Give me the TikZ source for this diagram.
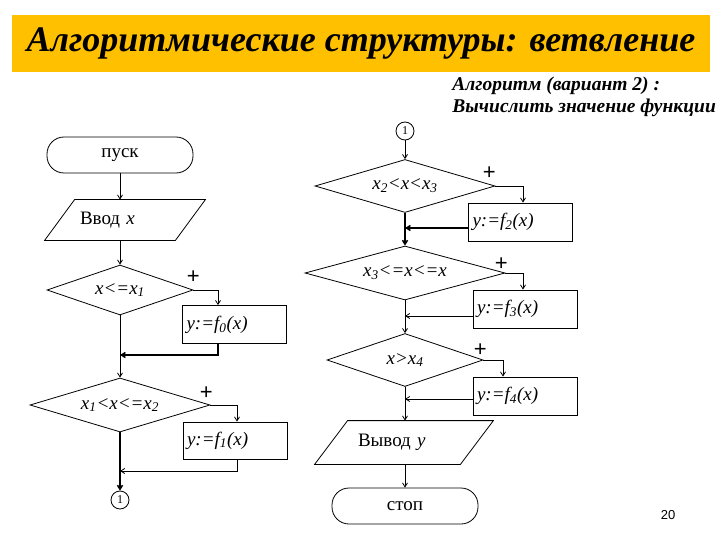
\documentclass[tikz,border=0pt]{standalone}
\usepackage{fontspec}
\setmainfont{Liberation Serif}
\newfontfamily\sansfont{Liberation Sans}
\usetikzlibrary{shapes.geometric,arrows.meta}
\definecolor{titlebg}{RGB}{255,192,0}
\begin{document}
\begin{tikzpicture}[x=1pt,y=-1pt,line width=0.8pt,
    every node/.style={inner sep=0pt},
    >={Straight Barb[length=4pt,width=5pt]},
    term/.style={draw,rounded corners=17pt,minimum width=146pt,minimum height=36pt,font=\fontsize{19}{19}\selectfont},
    io/.style={align=left,font=\fontsize{19}{19}\selectfont},
    cond/.style={draw,diamond,aspect=3,minimum height=53pt,font=\fontsize{19}{19}\selectfont\itshape},
    act/.style={draw,text width=96pt,inner xsep=4pt,align=left,minimum height=38pt,font=\fontsize{19}{19}\selectfont\itshape},
    link/.style={draw,circle,minimum size=18pt,font=\fontsize{12}{12}\selectfont},
    yes/.style={font=\sansfont\fontsize{22}{22}\selectfont},
    heavy/.style={line width=1.5pt}]
      \useasboundingbox (0,0) rectangle (720,540);
      \node[fill=titlebg,minimum width=698pt,minimum height=57pt,font=\fontsize{36}{36}\selectfont\bfseries\itshape] (title) at (361,43.5) {Алгоритмические структуры: ветвление};
      \node[anchor=north west,align=left,font=\fontsize{19.5}{22}\selectfont\bfseries\itshape] (task) at (452,77) {Алгоритм (вариант 2) :\\Вычислить значение функции};
      \node[term] (start) at (120,155) {пуск};
      \node[io,inner xsep=35pt,text width=90pt,minimum height=40pt] (in) at (125,220) {Ввод \textit{x}};
      \draw ([xshift=30pt]in.north west) -- (in.north east) -- ([xshift=-30pt]in.south east) -- (in.south west) -- cycle;
      \node[cond,minimum width=146pt,minimum height=50pt] (d1) at (120,290) {x<=x\textsubscript{1}};
      \node[act] (f0) at (234.5,324.5) {y:=f\textsubscript{0}(x)};
      \node[cond,minimum width=180pt,minimum height=54pt] (d2) at (120,405) {x\textsubscript{1}<x<=x\textsubscript{2}};
      \node[act,minimum height=37pt] (f1) at (235,440.5) {y:=f\textsubscript{1}(x)};
      \node[link] (c1) at (120,500) {1};
      \node[link] (c2) at (405,131) {1};
      \node[cond,minimum width=180pt] (d3) at (405,186) {x\textsubscript{2}<x<x\textsubscript{3}};
      \node[act] (f2) at (520.5,222) {y:=f\textsubscript{2}(x)};
      \node[cond,minimum width=200pt,minimum height=54pt] (d4) at (405,273) {x\textsubscript{3}<=x<=x};
      \node[act] (f3) at (525,309) {y:=f\textsubscript{3}(x)};
      \node[cond,minimum width=156pt] (d5) at (405,360) {x>x\textsubscript{4}};
      \node[act] (f4) at (525,396) {y:=f\textsubscript{4}(x)};
      \node[io,inner xsep=43pt,text width=92pt,minimum height=43pt] (out) at (404,442.5) {Вывод \textit{y}};
      \draw ([xshift=33pt]out.north west) -- (out.north east) -- ([xshift=-33pt]out.south east) -- (out.south west) -- cycle;
      \node[term] (stop) at (405,506) {стоп};
      \node[yes] (p1) at ([shift={(0,-13)}]d1.east) {+};
      \node[yes] (p2) at ([shift={(-4,-12)}]d2.east) {+};
      \node[yes] (p3) at ([shift={(-6,-13)}]d3.east) {+};
      \node[yes] (p4) at ([shift={(-4,-9)}]d4.east) {+};
      \node[yes] (p5) at ([shift={(-3,-10)}]d5.east) {+};
      \node[font=\sansfont\fontsize{13}{13}\selectfont] (page) at (668,515) {20};
      \coordinate (t0) at ([xshift=-16.5pt]f0.north);
      \coordinate (b0) at ([xshift=-16.5pt]f0.south);
      \coordinate (j0) at (120,355);
      \coordinate (t1) at ([xshift=2pt]f1.north);
      \coordinate (b1) at ([xshift=2pt]f1.south);
      \coordinate (j1) at (120,471);
      \coordinate (t2) at ([xshift=2.5pt]f2.north);
      \coordinate (r2) at ([yshift=-6pt]f2.west);
      \coordinate (t3) at ([xshift=-2pt]f3.north);
      \coordinate (r3) at ([yshift=-7pt]f3.west);
      \coordinate (t4) at ([xshift=-22pt]f4.north);
      \coordinate (r4) at ([yshift=-3pt]f4.west);
      \begin{scope}[->]
        \draw (start) to (start |- in.north);
        \draw (start |- in.south) to (d1);
        \draw (d1) to (d2);
        \draw[heavy] (d2) to (c1);
        \draw (c2) to (d3);
        \draw[heavy] (d3) to (d4);
        \draw (d4) to (d5);
        \draw (d5) to (d5 |- out.north);
        \draw (d5 |- out.south) to (stop);
        \draw (d1.east) -| (t0);
        \draw[heavy] (b0) |- (j0);
        \draw (d2.east) -| (t1);
        \draw (b1) |- (j1);
        \draw (d3.east) -| (t2);
        \draw[heavy] (r2) -- (r2 -| d3.south);
        \draw (d4.east) -| (t3);
        \draw (r3) -- (r3 -| d4.south);
        \draw (d5.east) -| (t4);
        \draw (r4) -- (r4 -| d5.south);
      \end{scope}
    \end{tikzpicture}
\end{document}
